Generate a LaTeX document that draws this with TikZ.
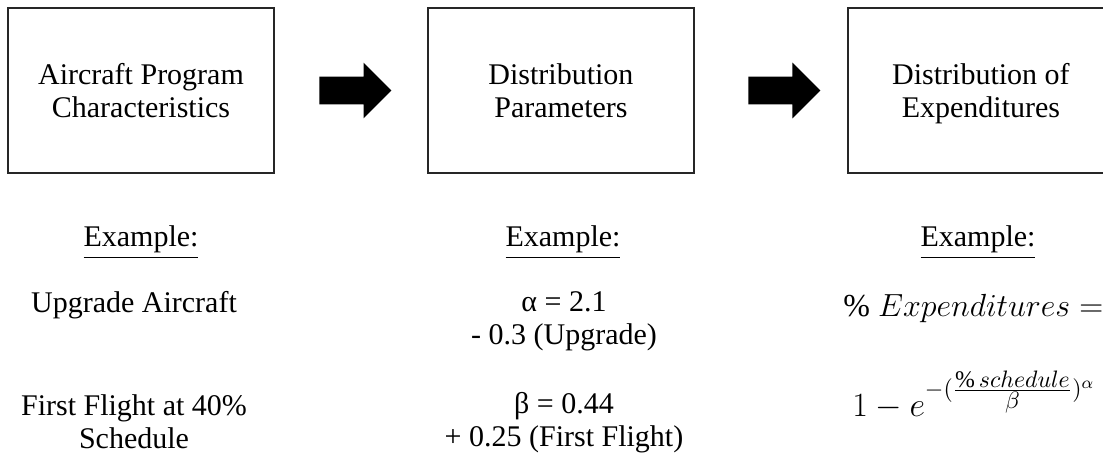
\RequirePackage{fix-cm}
\documentclass[tikz,border=0pt]{standalone}
\usepackage{amsmath}
\usepackage{fontspec}
\setmainfont{Liberation Serif}
\usetikzlibrary{positioning,shapes.arrows}

\begin{document}
\begin{tikzpicture}[x=0.5pt, y=-0.5pt,
  every node/.style={font=\fontsize{15}{16.5}\selectfont},
  stagebox/.style={draw=black!85, line width=1pt, minimum width=133pt, minimum height=82.5pt, align=center},
  blockarrow/.style={single arrow, fill=black, draw=none, inner xsep=0pt, inner ysep=6.75pt,
    minimum height=36pt, single arrow head extend=7pt},
  extext/.style={align=center},
  formula/.style={anchor=base west, inner sep=0pt, font=\fontsize{17}{20}\selectfont}]
\useasboundingbox (0,0) rectangle (1103,453);

% top row: stages and block arrows
\node[stagebox] (box1) at (141,90.5) {Aircraft Program\\Characteristics};
\node[blockarrow, right=22pt of box1] (arr1) {};
\node[stagebox, right=17.5pt of arr1] (box2) {Distribution\\Parameters};
\node[blockarrow, right=26.5pt of box2] (arr2) {};
\node[stagebox, right=13pt of arr2] (box3) {Distribution of\\\smash{Expenditures}};

% examples below
\node[anchor=base] (ex1) at (141,247) {\underline{Example:}};
\node (upg) at (134,305) {Upgrade Aircraft};
\node[extext] (ffl) at (134,422) {First Flight at 40\%\\Schedule};

\node[anchor=base] (ex2) at (563,247) {\underline{Example:}};
\node[extext] (alpha) at (564,321) {α = 2.1\\- 0.3 (Upgrade)};
\node[extext] (beta) at (564,423) {β = 0.44\\+ 0.25 (First Flight)};

\node[anchor=base] (ex3) at (978,247) {\underline{Example:}};
\node[formula, font=\fontsize{16}{19}\selectfont] (pct) at (843,317) {$\%\ Expenditures =$};
\node[formula] (form) at (852,417)
  {$1 - e^{-(\frac{\scriptstyle\%\,schedule}{\scriptstyle\beta})^{\alpha}}$};
\end{tikzpicture}
\end{document}
